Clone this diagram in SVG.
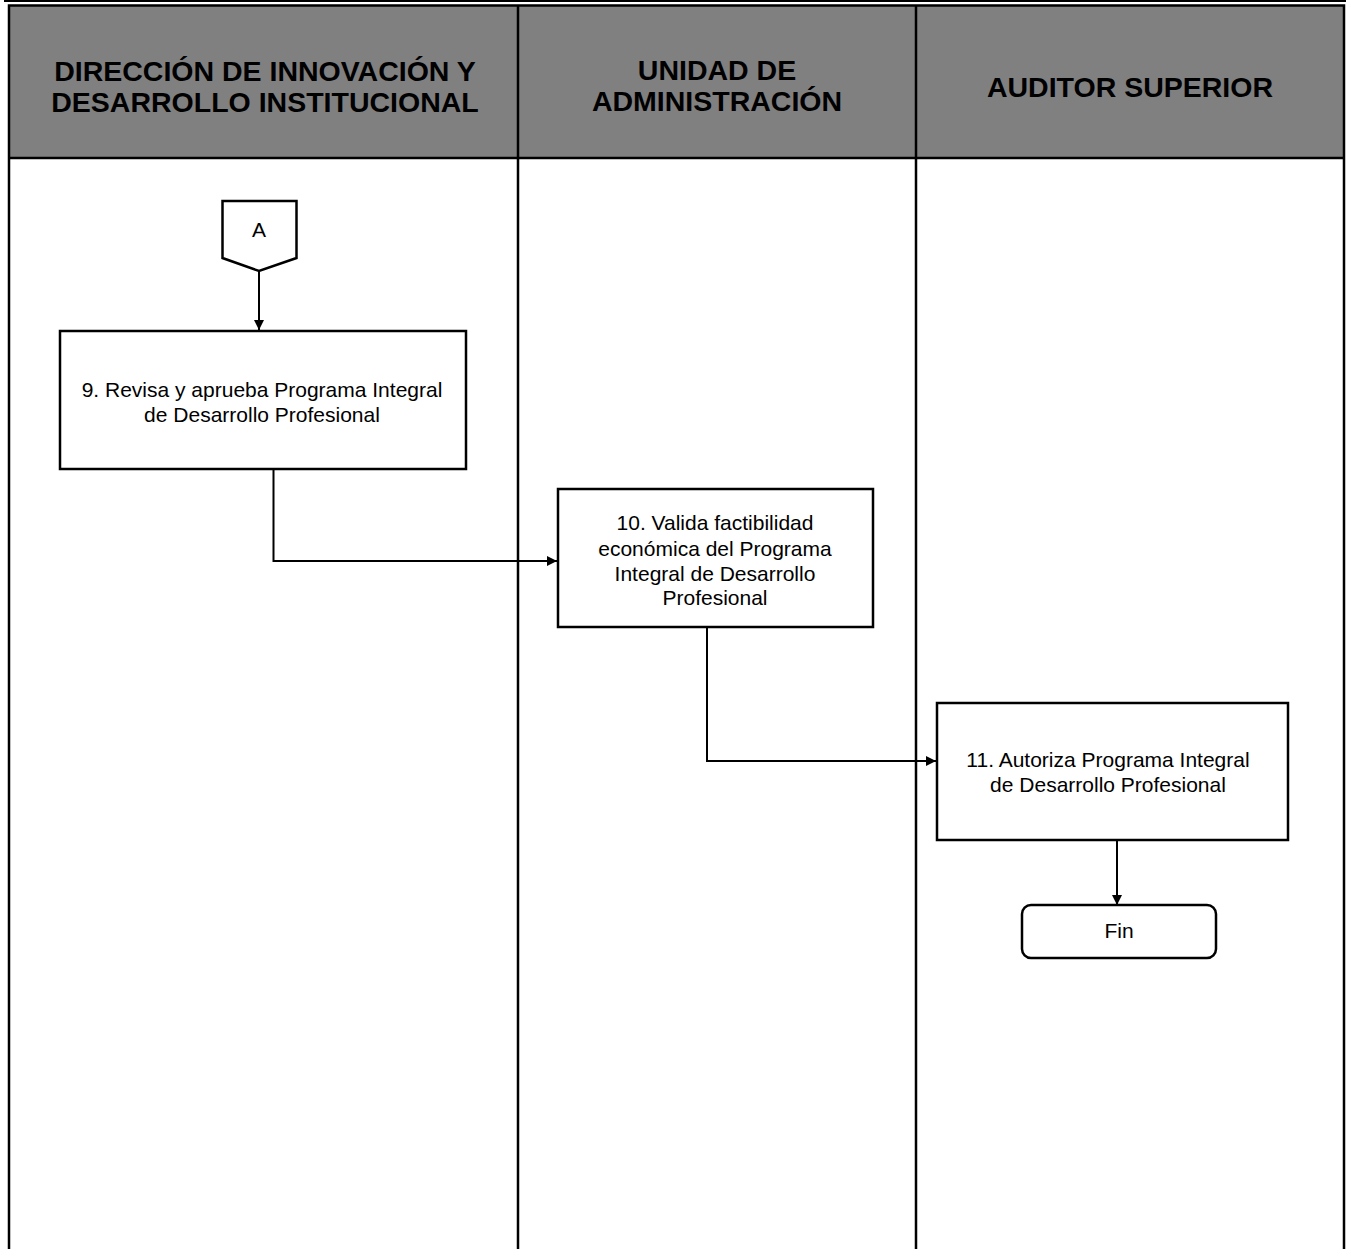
<svg xmlns="http://www.w3.org/2000/svg" width="1346" height="1249" viewBox="0 0 1346 1249">
  <style>
    .lane { fill: none; stroke: #000; stroke-width: 2.5; }
    .hdr { fill: #808080; }
    .htxt { font-family: "Liberation Sans", Arial, sans-serif; font-weight: bold; font-size: 28.5px; fill: #000; text-anchor: middle; }
    .box { fill: #fff; stroke: #000; stroke-width: 2.5; }
    .txt { font-family: "Liberation Sans", Arial, sans-serif; font-size: 21px; fill: #000; text-anchor: middle; }
    .conn { fill: none; stroke: #000; stroke-width: 2; }
  </style>
  <defs>
    <marker id="arrow" markerWidth="11" markerHeight="11" refX="10" refY="5" orient="auto" markerUnits="userSpaceOnUse">
      <path d="M0,0 L10,5 L0,10 Z" fill="#000"/>
    </marker>
  </defs>

  <rect width="1346" height="1249" fill="#fff"/>

  <!-- page rule -->
  <rect x="4" y="0" width="1342" height="2" fill="#000"/>

  <!-- swimlane frame -->
  <g id="lanes">
    <rect class="hdr" x="9" y="5.5" width="1335" height="152.5"/>
    <path class="lane" d="M9,1252 V5.5 H1344 V1252"/>
    <line class="lane" x1="9" y1="158" x2="1344" y2="158"/>
    <line class="lane" x1="518" y1="5.5" x2="518" y2="1252"/>
    <line class="lane" x1="916" y1="5.5" x2="916" y2="1252"/>
    <text class="htxt" x="265" y="81">DIRECCIÓN DE INNOVACIÓN Y</text>
    <text class="htxt" x="265" y="112">DESARROLLO INSTITUCIONAL</text>
    <text class="htxt" x="717" y="80">UNIDAD DE</text>
    <text class="htxt" x="717" y="111">ADMINISTRACIÓN</text>
    <text class="htxt" x="1130" y="97">AUDITOR SUPERIOR</text>
  </g>

  <!-- connectors -->
  <g id="connectors">
    <path class="conn" d="M259,271 V330" marker-end="url(#arrow)"/>
    <path class="conn" d="M273.5,469 V561 H557" marker-end="url(#arrow)"/>
    <path class="conn" d="M707,627 V761 H936" marker-end="url(#arrow)"/>
    <path class="conn" d="M1117,841 V905" marker-end="url(#arrow)"/>
  </g>

  <g id="node-A">
    <path class="box" d="M222.5,201 H296.5 V258 L259,271 L222.5,258 Z"/>
    <text class="txt" x="259" y="237">A</text>
  </g>

  <g id="node-9">
    <rect class="box" x="60" y="331" width="406" height="138"/>
    <text class="txt" x="262" y="397">9. Revisa y aprueba Programa Integral</text>
    <text class="txt" x="262" y="422">de Desarrollo Profesional</text>
  </g>

  <g id="node-10">
    <rect class="box" x="558" y="489" width="315" height="138"/>
    <text class="txt" x="715" y="530">10. Valida factibilidad</text>
    <text class="txt" x="715" y="556">económica del Programa</text>
    <text class="txt" x="715" y="581">Integral de Desarrollo</text>
    <text class="txt" x="715" y="605">Profesional</text>
  </g>

  <g id="node-11">
    <rect class="box" x="937" y="703" width="351" height="137"/>
    <text class="txt" x="1108" y="767">11. Autoriza Programa Integral</text>
    <text class="txt" x="1108" y="792">de Desarrollo Profesional</text>
  </g>

  <g id="node-fin">
    <rect class="box" x="1022" y="905" width="194" height="53" rx="9" ry="9"/>
    <text class="txt" x="1119" y="938">Fin</text>
  </g>
</svg>
